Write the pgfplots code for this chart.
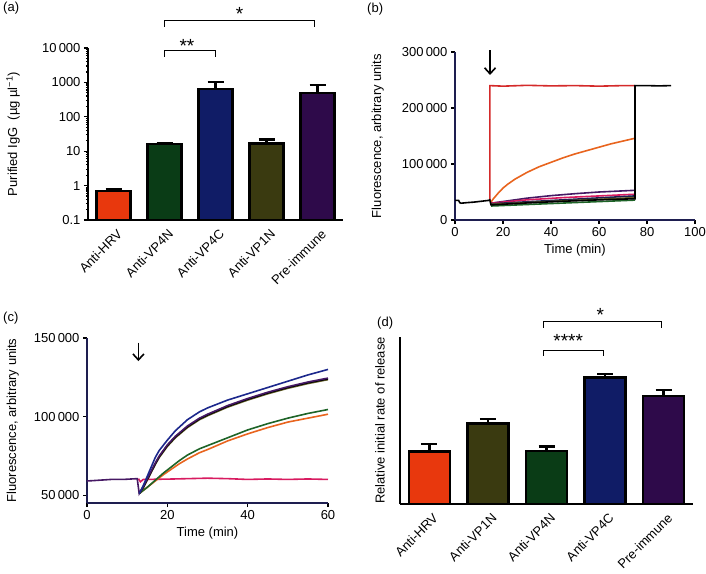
\documentclass[border=0pt]{standalone}
\usepackage{fontspec}
\setmainfont{Liberation Sans}
\usepackage{pgfplots}
\pgfplotsset{compat=1.18}
\usetikzlibrary{arrows.meta}
\definecolor{hrv}{RGB}{232,56,13}
\definecolor{vpfn}{RGB}{10,60,22}
\definecolor{vpfc}{RGB}{16,28,102}
\definecolor{vpon}{RGB}{58,58,16}
\definecolor{pre}{RGB}{46,10,74}
\definecolor{navyax}{RGB}{30,30,80}
\definecolor{lblue}{RGB}{28,40,140}
\definecolor{lpurp}{RGB}{70,25,100}
\definecolor{lolive}{RGB}{100,95,40}
\definecolor{lgreen}{RGB}{30,100,40}
\definecolor{lorange}{RGB}{232,100,30}
\definecolor{lpink}{RGB}{216,27,96}
\definecolor{lred}{RGB}{212,42,42}
\newcommand{\sigstar}[1]{\fontsize{19}{19}\selectfont #1}
\tikzset{arr/.style={-{Straight Barb[length=6pt,width=11pt]}, line width=1.6pt}}
\begin{document}
\begin{tikzpicture}[font=\fontsize{13}{15}\selectfont]
\path[use as bounding box] (0,0) rectangle (706pt,-573pt);
\pgfplotsset{
  common/.style={scale only axis, axis lines=left, axis line style={-, line width=1.5pt},
    tick align=outside, /pgf/number format/assume math mode=true,
    scaled y ticks=false, scaled x ticks=false,
    tick style={line width=1.2pt, black}, major tick length=4pt, clip=false,
    ylabel style={anchor=south, inner sep=0pt},
    xlabel style={at={(rel axis cs:0.5,0)}, anchor=center, yshift=-30pt}},
  barax/.style={common, xmin=-0.5, xmax=4.5, xtick={0,1,2,3,4}, x tick style={draw=none},
    xticklabel style={rotate=45, anchor=north east, inner sep=1pt, yshift=-4pt}},
  bar/.style={ybar, bar shift=0pt, draw=black, line width=2.5pt,
    error bars/y dir=plus, error bars/y explicit,
    error bars/error bar style={line width=2.5pt, black},
    error bars/error mark options={rotate=90, mark size=8pt, line width=2.5pt, black}},
  curve/.style={line width=1.6pt, mark=none}
}
% ---------------- (a)
\node[anchor=north west, inner sep=0pt] at (3pt,-2pt) {(a)};
\begin{axis}[barax, at={(88pt,-220pt)}, anchor=south west, width=255pt, height=172pt,
  ymode=log, ymin=0.1, ymax=10000, log origin y=infty,
  ytick={0.1,1,10,100,1000,10000}, yticklabels={0.1,1,10,100,1000,10\,000},
  minor ytick={0.2,0.3,0.4,0.5,0.6,0.7,0.8,0.9,2,3,4,5,6,7,8,9,20,30,40,50,60,70,80,90,200,300,400,500,600,700,800,900,2000,3000,4000,5000,6000,7000,8000,9000},
  minor tick length=2pt,
  xticklabels={Anti-HRV,Anti-VP4N,Anti-VP4C,Anti-VP1N,Pre-immune},
  ylabel style={at={(rel axis cs:-0.267,0.5)}},
  ylabel={Purified IgG\ \ (µg µl\textsuperscript{−1})}]
\addplot[bar, bar width=0.66, fill=hrv] coordinates {(0,0.7) +- (0,0.1)};
\addplot[bar, bar width=0.66, fill=vpfn] coordinates {(1,16) +- (0,1.5)};
\addplot[bar, bar width=0.66, fill=vpfc] coordinates {(2,645) +- (0,375)};
\addplot[bar, bar width=0.66, fill=vpon] coordinates {(3,17) +- (0,5)};
\addplot[bar, bar width=0.66, fill=pre] coordinates {(4,500) +- (0,335)};
\draw[line width=1pt] (axis cs:1,5500) -- (axis cs:1,8200) -- (axis cs:2,8200) -- (axis cs:2,5500);
\node[anchor=base, inner sep=0pt] at (axis cs:1.44,7160) {\sigstar{**}};
\draw[line width=1pt] (axis cs:1,41000) -- (axis cs:1,61000) -- (axis cs:3.95,61000) -- (axis cs:3.95,41000);
\node[anchor=base, inner sep=0pt] at (axis cs:2.47,61000) {\sigstar{*}};
\end{axis}
% ---------------- (b)
\node[anchor=north west, inner sep=0pt] at (367pt,-3pt) {(b)};
\begin{axis}[common, at={(455pt,-220pt)}, anchor=south west, width=240pt, height=168pt,
  axis line style={navyax}, xmin=0, xmax=100, ymin=0, ymax=300000,
  xtick={0,20,40,60,80,100}, ytick={0,100000,200000,300000},
  yticklabels={0,100\,000,200\,000,300\,000},
  ylabel style={at={(rel axis cs:-0.296,0.5)}},
  xlabel={Time (min)}, ylabel={Fluorescence, arbitrary units}]
\addplot[curve, lred] coordinates {(14.5,35000) (14.5,240000) (20,239000) (30,240500) (40,239500) (50,240000) (60,239000) (70,240000) (75,240000)};
\addplot[curve, lorange] coordinates {(15,32000) (16,38000) (17,43000) (18,48000) (20,57000) (22,64000) (25,73000) (30,85000) (35,95000) (40,103000) (45,111000) (50,118000) (55,124000) (60,130000) (65,136000) (70,141000) (74,145000) (75,146000)};
\addplot[curve, lpurp] coordinates {(15,30000) (20,33000) (30,39000) (40,43500) (50,47000) (60,50000) (75,53000)};
\addplot[curve, lpink] coordinates {(15,30000) (30,36000) (45,40000) (60,43000) (75,46000)};
\addplot[curve, navyax] coordinates {(15,29000) (75,43000)};
\addplot[curve, lolive] coordinates {(15,28000) (75,40000)};
\addplot[curve, lgreen] coordinates {(15,25000) (75,35500)};
\addplot[curve, black] coordinates {(0,35000) (1.5,35000) (2,31000) (2.5,30000) (5,31000) (8,32000) (11,33500) (14,35000) (14.5,36000) (15,27000) (30,30500) (45,33500) (60,36000) (75,38000) (75,240000) (80,240000) (85,239500) (90,240000)};
\draw[arr] (axis cs:14.6,303000) -- (axis cs:14.6,259000);
\end{axis}
% ---------------- (c)
\node[anchor=north west, inner sep=0pt] at (3pt,-312pt) {(c)};
\begin{axis}[common, at={(87pt,-503pt)}, anchor=south west, width=241pt, height=165pt,
  axis line style={navyax}, xmin=0, xmax=60, ymin=45000, ymax=150000,
  xtick={0,20,40,60}, ytick={50000,100000,150000},
  yticklabels={50\,000,100\,000,150\,000},
  ylabel style={at={(rel axis cs:-0.282,0.5)}},
  xlabel={Time (min)}, ylabel={Fluorescence, arbitrary units}]
\addplot[curve, lpink] coordinates {(12.8,60500) (13.3,58500) (14,60000) (20,60200) (25,60500) (30,60800) (35,60500) (40,60000) (45,60300) (50,60000) (55,60300) (60,60000)};
\addplot[curve, lorange] coordinates {(13,51000) (15,55000) (17,59000) (19,63000) (21,66500) (23,70000) (25,73000) (28,77000) (30,79000) (35,84500) (40,89000) (45,93000) (50,96500) (55,99000) (60,101500)};
\addplot[curve, lgreen] coordinates {(13,51000) (15,55000) (17,59500) (19,64000) (21,68000) (23,72000) (25,75500) (28,79500) (30,81500) (35,86500) (40,91500) (45,95500) (50,99000) (55,102000) (60,104500)};
\addplot[curve, lolive] coordinates {(13,51000) (14,54500) (15,59500) (16,64500) (17,69500) (18,74000) (20,81000) (22,86500) (25,93000) (28,98000) (30,100500) (35,106000) (40,110500) (45,114500) (50,118000) (55,121000) (60,123500)};
\addplot[curve, black] coordinates {(13,51000) (14,55000) (15,60000) (16,65000) (17,70000) (18,74500) (20,81500) (22,87000) (25,93500) (28,98500) (30,101000) (35,106500) (40,111000) (45,115000) (50,118500) (55,121500) (60,124000)};
\addplot[curve, lpurp] coordinates {(0,59000) (3,59500) (6,60000) (9,60000) (12.5,60500) (13,51000) (14,55500) (15,60500) (16,65500) (17,70500) (18,75000) (20,82000) (22,87500) (25,94000) (28,99000) (30,101500) (35,107000) (40,111500) (45,115500) (50,119000) (55,122000) (60,124500)};
\addplot[curve, lblue] coordinates {(13,51000) (14,56000) (15,62000) (16,68000) (17,74000) (18,78500) (20,85000) (22,91000) (25,98000) (28,103000) (30,105500) (35,110500) (40,114500) (45,118500) (50,122500) (55,126500) (60,130000)};
\draw[arr] (axis cs:12.8,147000) -- (axis cs:12.8,135300);
\end{axis}
% ---------------- (d)
\node[anchor=north west, inner sep=0pt] at (377pt,-317pt) {(d)};
\begin{axis}[barax, at={(400pt,-504pt)}, anchor=south west, width=293pt, height=167pt,
  ymin=0, ymax=100, ytick=\empty, axis line style={line width=2pt},
  xticklabels={Anti-HRV,Anti-VP1N,Anti-VP4N,Anti-VP4C,Pre-immune},
  ylabel style={at={(rel axis cs:-0.051,0.5)}},
  ylabel={Relative initial rate of release}]
\addplot[bar, bar width=0.70, fill=hrv] coordinates {(0,31.3) +- (0,4.6)};
\addplot[bar, bar width=0.70, fill=vpon] coordinates {(1,48.3) +- (0,2.6)};
\addplot[bar, bar width=0.70, fill=vpfn] coordinates {(2,31.7) +- (0,2.6)};
\addplot[bar, bar width=0.70, fill=vpfc] coordinates {(3,75.9) +- (0,1.9)};
\addplot[bar, bar width=0.70, fill=pre] coordinates {(4,64.7) +- (0,3.6)};
\draw[line width=1pt] (axis cs:1.95,88.8) -- (axis cs:1.95,92.2) -- (axis cs:2.97,92.2) -- (axis cs:2.97,88.8);
\node[anchor=base, inner sep=0pt] at (axis cs:2.37,93.8) {\sigstar{****}};
\draw[line width=1pt] (axis cs:1.95,105.6) -- (axis cs:1.95,109.2) -- (axis cs:3.97,109.2) -- (axis cs:3.97,105.6);
\node[anchor=base, inner sep=0pt] at (axis cs:2.92,109.5) {\sigstar{*}};
\end{axis}
\end{tikzpicture}
\end{document}
